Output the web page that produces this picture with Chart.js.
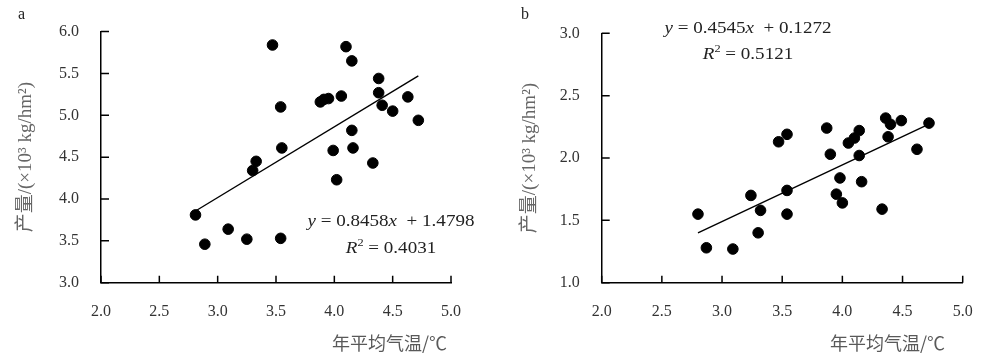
<!DOCTYPE html>
<html>
<head>
<meta charset="utf-8">
<script src="https://cdn.jsdelivr.net/npm/chart.js@4.4.1/dist/chart.umd.min.js"></script>
<style>
  html, body { margin:0; padding:0; background:#ffffff; }
  body { width:999px; height:359px; position:relative; overflow:hidden; }
  .box { position:absolute; top:0; height:359px; }
  .txt { position:absolute; white-space:nowrap; line-height:1; color:#222; font-family:'Liberation Serif', serif; }
  .eq { font-size:17px; transform:translateX(-50%) scaleX(1.12); text-align:center; }
  .eq sup { font-size:11px; vertical-align:7px; line-height:0; }
  .xt { font-family:'Noto Sans CJK SC', sans-serif; font-size:18px; color:#595959; }
  .pl { font-size:16px; color:#222; }
</style>
</head>
<body>
<div class="box" style="left:0;width:480px;"><canvas id="ca"></canvas></div>
<div class="box" style="left:500px;width:499px;"><canvas id="cb"></canvas></div>

<div class="txt pl" style="left:18px;top:6px;">a</div>
<div class="txt pl" style="left:521px;top:6px;">b</div>

<div class="txt eq" style="left:391px;top:212px;"><i>y</i> = 0.8458<i>x</i>&nbsp; + 1.4798</div>
<div class="txt eq" style="left:391px;top:239px;"><i>R</i><sup>2</sup> = 0.4031</div>
<div class="txt eq" style="left:748px;top:19px;"><i>y</i> = 0.4545<i>x</i>&nbsp; + 0.1272</div>
<div class="txt eq" style="left:748px;top:45px;"><i>R</i><sup>2</sup> = 0.5121</div>

<div class="txt xt" style="left:332px;top:333px;">年平均气温/℃</div>
<div class="txt xt" style="left:830px;top:333px;">年平均气温/℃</div>

<script>
// ---- data ----
const tempA  = [2.81, 2.89, 3.09, 3.25, 3.30, 3.33, 3.47, 3.54, 3.55, 3.54, 3.88, 3.91, 3.95, 3.99, 4.02, 4.06, 4.10, 4.15, 4.15, 4.16, 4.33, 4.38, 4.38, 4.41, 4.50, 4.63, 4.72];
const yieldA = [3.81, 3.46, 3.64, 3.52, 4.34, 4.45, 5.84, 5.10, 4.61, 3.53, 5.16, 5.19, 5.20, 4.58, 4.23, 5.23, 5.82, 5.65, 4.82, 4.61, 4.43, 5.44, 5.27, 5.12, 5.05, 5.22, 4.94];

const tempB  = [2.80, 2.87, 3.09, 3.24, 3.30, 3.32, 3.47, 3.54, 3.54, 3.54, 3.87, 3.90, 3.95, 3.98, 4.00, 4.05, 4.10, 4.14, 4.14, 4.16, 4.33, 4.36, 4.38, 4.40, 4.49, 4.62, 4.72];
const yieldB = [1.55, 1.28, 1.27, 1.70, 1.40, 1.58, 2.13, 2.19, 1.74, 1.55, 2.24, 2.03, 1.71, 1.84, 1.64, 2.12, 2.16, 2.22, 2.02, 1.81, 1.59, 2.32, 2.17, 2.27, 2.30, 2.07, 2.28];

const fitA = [0.8458, 1.4798];   // slope, intercept
const fitB = [0.4545, 0.1272];

const xTickLabels  = ['2.0', '2.5', '3.0', '3.5', '4.0', '4.5', '5.0'];
const yTickLabelsA = ['3.0', '3.5', '4.0', '4.5', '5.0', '5.5', '6.0'];
const yTickLabelsB = ['1.0', '1.5', '2.0', '2.5', '3.0'];
const yTitle = '产量/(×10³ kg/hm²)';

// inward tick marks, placed through the chart's own scales
const innerTicks = {
  id: 'innerTicks',
  afterDraw(chart) {
    const ctx = chart.ctx;
    const xs = chart.scales.x, ys = chart.scales.y;
    ctx.save();
    ctx.strokeStyle = '#000';
    ctx.lineWidth = 1.5;
    ctx.beginPath();
    xs.ticks.forEach(t => {
      const px = xs.getPixelForValue(t.value);
      ctx.moveTo(px, xs.top);
      ctx.lineTo(px, xs.top - 7);
    });
    ys.ticks.forEach(t => {
      const py = ys.getPixelForValue(t.value);
      ctx.moveTo(ys.right, py);
      ctx.lineTo(ys.right + 8, py);
    });
    ctx.stroke();
    ctx.restore();
  }
};

// ---- chart builder ----
function makeChart(id, temps, yields, fit, yLabels, geom) {
  const pts = temps.map((t, i) => ({ x: t, y: yields[i] }));
  const xmin = Math.min(...temps), xmax = Math.max(...temps);
  const line = [xmin, xmax].map(x => ({ x: x, y: fit[0] * x + fit[1] }));
  const ymin = parseFloat(yLabels[0]), ymax = parseFloat(yLabels[yLabels.length - 1]);
  const tickFont = { family: "'Liberation Serif', serif", size: 16 };
  return new Chart(document.getElementById(id), {
    type: 'scatter',
    data: {
      datasets: [
        { type: 'line', data: line, borderColor: '#000', borderWidth: 1.4, pointRadius: 0, fill: false, order: 2 },
        { data: pts, backgroundColor: '#000', borderColor: '#000', pointRadius: 5.3, pointHoverRadius: 5.3, order: 1 }
      ]
    },
    plugins: [innerTicks],
    options: {
      responsive: true, maintainAspectRatio: false, animation: false,
      layout: { padding: { left: 0, right: geom.padRight, top: geom.padTop, bottom: 0 } },
      plugins: { legend: { display: false }, tooltip: { enabled: false } },
      scales: {
        x: {
          type: 'linear', min: 2, max: 5,
          afterFit: s => { s.height = geom.xHeight; },
          ticks: { stepSize: 0.5, color: '#333', font: tickFont, padding: 19, maxRotation: 0,
                   callback: (v, i) => xTickLabels[i] },
          grid: { drawOnChartArea: false, drawTicks: false },
          border: { display: true, color: '#000', width: 1.5 }
        },
        y: {
          type: 'linear', min: ymin, max: ymax,
          afterFit: s => { s.width = geom.yWidth; },
          ticks: { stepSize: 0.5, color: '#333', font: tickFont, padding: 22,
                   callback: (v, i) => yLabels[i] },
          grid: { drawOnChartArea: false, drawTicks: false },
          border: { display: true, color: '#000', width: 1.5 },
          title: { display: true, text: yTitle, color: '#666',
                   font: { family: "'Liberation Serif', 'Noto Sans CJK SC', serif", size: 19 },
                   padding: { top: geom.titlePad, bottom: 0 } }
        }
      }
    }
  });
}

makeChart('ca', tempA, yieldA, fitA, yTickLabelsA,
  { padRight: 28.3, padTop: 22.7, xHeight: 76.3, yWidth: 101, titlePad: 15 });
makeChart('cb', tempB, yieldB, fitB, yTickLabelsB,
  { padRight: 36.3, padTop: 33.3, xHeight: 76.3, yWidth: 101.7, titlePad: 19 });
</script>
</body>
</html>
